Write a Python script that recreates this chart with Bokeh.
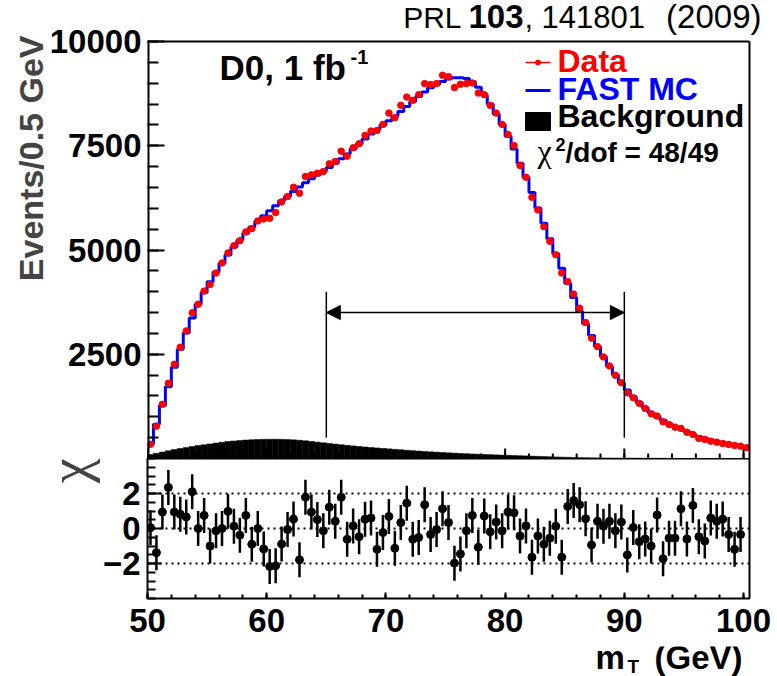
import numpy as np
from bokeh.plotting import figure
from bokeh.layouts import column
from bokeh.models import FixedTicker, Label, Span, Arrow, NormalHead, Range1d, Title
from bokeh.embed import file_html
from bokeh.resources import INLINE

# ---------------- data ----------------
MT_LOW, MT_HIGH, BIN_W, N_BINS = 50.0, 100.5, 0.5, 101
mt_edges = MT_LOW + BIN_W * np.arange(N_BINS + 1)
mt_centers = mt_edges[:-1] + BIN_W / 2

data_counts = [340, 776, 1298, 1803, 2260, 2668, 3060, 3493, 3702, 4014,
               4173, 4447, 4688, 4930, 5103, 5223, 5433, 5512, 5697, 5745,
               5760, 5897, 6154, 6281, 6505, 6361, 6762, 6803, 6841, 6882,
               7067, 7123, 7370, 7250, 7452, 7548, 7748, 7851, 7868, 8012,
               8284, 8173, 8469, 8668, 8589, 8726, 8990, 8966, 8990, 9190,
               9157, 8894, 8974, 8990, 9005, 8764, 8726, 8469, 8284, 8012,
               7772, 7507, 7026, 6745, 6264, 5962, 5560, 5207, 4887, 4450,
               4245, 3942, 3606, 3260, 2885, 2683, 2435, 2219, 1995, 1817,
               1577, 1457, 1322, 1202, 1072, 1017, 880, 817, 752, 721,
               632, 577, 481, 457, 416, 392, 361, 337, 313, 296, 260]

mc_counts = [350, 820, 1270, 1720, 2190, 2620, 3010, 3370, 3700, 3980,
             4240, 4470, 4680, 4880, 5070, 5240, 5400, 5550, 5690, 5820,
             5940, 6060, 6180, 6290, 6400, 6510, 6610, 6710, 6800, 6890,
             6980, 7080, 7190, 7300, 7420, 7540, 7660, 7780, 7890, 7990,
             8100, 8210, 8320, 8440, 8560, 8680, 8790, 8890, 8970, 9040,
             9100, 9130, 9130, 9110, 9040, 8900, 8720, 8500, 8260, 8010,
             7730, 7420, 7080, 6740, 6380, 6010, 5640, 5270, 4910, 4560,
             4200, 3860, 3530, 3230, 2950, 2680, 2440, 2210, 2010, 1810,
             1640, 1480, 1340, 1215, 1100, 1000, 915, 835, 765, 700,
             640, 580, 530, 485, 445, 410, 380, 352, 328, 305, 285]

bkg_counts = [95, 125, 155, 185, 215, 240, 265, 290, 310, 330,
              350, 370, 390, 405, 420, 432, 442, 450, 456, 460,
              462, 462, 460, 455, 448, 438, 425, 410, 393, 376,
              360, 345, 330, 316, 302, 289, 276, 264, 253, 242,
              231, 220, 209, 198, 188, 178, 169, 160, 152, 144,
              136, 129, 122, 115, 109, 103, 97, 92, 87, 82,
              77, 72, 67, 62, 57, 52, 47, 42, 37, 33,
              29, 25, 22, 19, 17, 15, 13, 12, 11, 10,
              9, 8, 8, 7, 7, 6, 6, 5, 5, 5,
              4, 4, 4, 4, 3, 3, 3, 3, 3, 2, 2]

chi_values = [0.05, -1.38, 0.94, 2.35, 0.94, 0.81, 0.66, 2.10, 0.00, 0.75,
              -1.00, -0.13, 0.00, 0.98, 0.13, -0.38, 0.75, -0.90, 0.00, -1.17,
              -2.17, -2.13, -0.89, -0.06, 0.54, -1.79, 1.79, 0.94, 0.51, -0.13,
              1.22, 0.41, 1.79, -0.62, 0.15, -0.47, 0.53, 0.60, -1.19, -0.23,
              0.69, -1.13, 0.34, 1.45, -0.62, -0.51, 1.36, -0.34, -0.06, 1.13,
              0.34, -1.98, -1.45, -0.13, 0.75, -1.07, 0.71, -0.19, 0.37, -0.13,
              0.94, 0.90, -0.43, 0.15, -1.64, -0.43, -0.90, -0.55, 0.13, -1.64,
              1.26, 1.60, 1.36, 0.56, -0.94, 0.41, 0.13, 0.41, -0.13, 0.37,
              -1.51, 0.06, -0.75, -0.60, -1.00, 0.77, -1.73, -0.55, -0.55, 1.13,
              -0.60, 1.32, -0.47, -0.72, 0.60, 0.41, 0.54, -0.34, -1.19, -0.34]
chi_err = 1.0

fit_window = [65, 90]
window_lines = [500, 4000]
arrow_level = 3500
chi_ref_lines = [-2, 0, 2]

x_major = [50, 60, 70, 80, 90, 100]
x_minor = list(range(50, 101, 2))
y_major = [2500, 5000, 7500, 10000]
y_minor = list(range(0, 10001, 500))
chi_major = [-2, 0, 2]
chi_minor = [v / 2 for v in range(-8, 9)]
Y_MAX, CHI_MIN, CHI_MAX = 10000, -4, 4

# ---------------- layout (page pixels) ----------------
W, H = 777, 676
FL, FR = 147, 749            # frame left / right of the visible boxes
MAIN_TOP, MAIN_BOT = 41, 458 # visible box of the main panel
LOW_H, LOW_BB = 140, 48      # chi frame height / its bottom border (tick labels)
BOT_TOP = MAIN_BOT + LOW_H + LOW_BB
BOT_H = H - BOT_TOP

px_per_gev = (FR - FL) / (MT_HIGH - MT_LOW)
px_per_evt = (MAIN_BOT - MAIN_TOP) / Y_MAX
X_END = MT_LOW + (W - FL) / px_per_gev
Y_MAIN_END = MAIN_BOT / px_per_evt

def mx(px):
    return MT_LOW + (px - FL) / px_per_gev
def vy(py):
    return (MAIN_BOT - py) / px_per_evt
def bl(py, size):
    # page baseline -> label anchor (labels render about 0.4 em below the anchor)
    return py - 0.4 * size

FONT = "Liberation Sans"

def base_style(fig):
    fig.grid.grid_line_color = None
    fig.background_fill_color = "white"
    fig.border_fill_color = "white"
    fig.outline_line_color = None
    for ax in fig.axis:
        ax.axis_label = None
        ax.axis_line_color = None
        ax.major_tick_line_width = 2
        ax.minor_tick_line_width = 2
        ax.major_tick_out = 0
        ax.minor_tick_out = 0
        ax.major_label_text_font = FONT
        ax.major_label_text_font_style = "bold"
        ax.major_label_text_font_size = "33px"
        ax.major_label_text_color = "black"

def lab(fig, x, y, text, size, color="black", style="bold", font=FONT, align="left"):
    fig.add_layout(Label(x=x, y=y, text=text, text_font=font, text_font_size=f"{size}px",
                         text_font_style=style, text_color=color,
                         text_baseline="alphabetic", text_align=align))

def plab(px, py, text, size, **kw):
    lab(p, mx(px), vy(bl(py, size)), text, size, **kw)

# ---------------- main panel ----------------
p = figure(width=W, height=MAIN_BOT, title=None, frame_align=False,
           x_range=Range1d(MT_LOW, X_END), y_range=Range1d(0, Y_MAIN_END),
           x_axis_location=None, output_backend="svg", toolbar_location=None,
           min_border_left=FL, min_border_right=0, min_border_top=0, min_border_bottom=0)
base_style(p)
p.yaxis.ticker = FixedTicker(ticks=y_major, minor_ticks=y_minor)
p.yaxis.major_tick_in = 17
p.yaxis.minor_tick_in = 11
p.yaxis.major_label_standoff = 6
p.add_layout(Title(text="Events/0.5 GeV", align="right", offset=35, standoff=-6,
                   text_font=FONT, text_font_size="34px", text_font_style="bold"), "left")

# background histogram
p.quad(left=mt_edges[:-1], right=mt_edges[1:], bottom=0, top=bkg_counts,
       fill_color="black", line_color="black", line_width=0.5)

# FAST MC step histogram
step_x = np.concatenate([[mt_edges[0]], np.repeat(mt_edges, 2)[1:-1]])
step_y = np.concatenate([[0], np.repeat(mc_counts, 2)])
p.line(step_x, step_y, line_color="#0000ff", line_width=3)

# data
p.scatter(mt_centers, data_counts, size=6.5, marker="circle",
          fill_color="#ff0000", line_color="#ff0000")

# box of the main panel (left, top, right) and inward bottom ticks
p.segment(x0=[MT_LOW, MT_LOW, MT_HIGH], y0=[0, Y_MAX, 0],
          x1=[MT_LOW, MT_HIGH, MT_HIGH], y1=[Y_MAX, Y_MAX, Y_MAX],
          line_color="black", line_width=[4, 2, 2])
p.segment(x0=x_minor, y0=[0] * len(x_minor), x1=x_minor, y1=[5 / px_per_evt] * len(x_minor),
          line_color="black", line_width=2)
p.segment(x0=x_major, y0=[0] * len(x_major), x1=x_major, y1=[10 / px_per_evt] * len(x_major),
          line_color="black", line_width=2)

# fit window
p.segment(x0=fit_window, y0=[window_lines[0]] * 2, x1=fit_window, y1=[window_lines[1]] * 2,
          line_color="black", line_width=1.5)
p.add_layout(Arrow(start=NormalHead(size=14, fill_color="black", line_color="black"),
                   end=NormalHead(size=14, fill_color="black", line_color="black"),
                   x_start=fit_window[0], y_start=arrow_level,
                   x_end=fit_window[1], y_end=arrow_level,
                   line_color="black", line_width=1.5))

# header
plab(461, 29, "PRL", 30, style="normal", align="right")
plab(468, 29, "103", 33, style="bold")
plab(524, 29, ",", 31, style="normal")
plab(541, 29, "141801", 31, style="normal")
plab(761, 29, "(2009)", 33, style="normal", align="right")

# D0 label
plab(219, 81, "D0, 1 fb", 35)
plab(350, 64, "-1", 20)

# legend
p.segment(x0=[mx(525)], y0=[vy(62)], x1=[mx(550)], y1=[vy(62)], line_color="#ff0000", line_width=1.5)
p.scatter([mx(537.5)], [vy(62)], size=5, fill_color="#ff0000", line_color="#ff0000")
p.segment(x0=[mx(525)], y0=[vy(90)], x1=[mx(550)], y1=[vy(90)], line_color="#0000ff", line_width=3)
p.quad(left=[mx(525)], right=[mx(550)], bottom=[vy(130)], top=[vy(112)],
       fill_color="black", line_color="black")
plab(557, 73, "Data", 32, color="#ff0000")
plab(557, 101, "FAST MC", 32, color="#0000ff")
plab(557, 128, "Background", 32)
plab(537, 163, "χ", 32, style="normal", font="Liberation Serif")
plab(555, 151, "2", 18)
plab(565, 163, "/dof = 48/49", 28)

# ---------------- lower (chi) panel ----------------
q = figure(width=W, height=LOW_H + LOW_BB, title=None, frame_align=False,
           x_range=Range1d(MT_LOW, MT_HIGH), y_range=Range1d(CHI_MIN, CHI_MAX),
           output_backend="svg", toolbar_location=None,
           min_border_left=FL, min_border_right=W - FR, min_border_top=0, min_border_bottom=LOW_BB)
base_style(q)
q.outline_line_color = "black"
q.outline_line_width = 2
q.xaxis.ticker = FixedTicker(ticks=x_major, minor_ticks=x_minor)
q.xaxis.major_tick_in = 6
q.xaxis.minor_tick_in = 4
q.xaxis.major_label_standoff = 10
q.yaxis.ticker = FixedTicker(ticks=chi_major, minor_ticks=chi_minor)
q.yaxis.major_tick_in = 14
q.yaxis.minor_tick_in = 8
q.yaxis.major_label_standoff = 7
q.add_layout(Title(text="χ", align="right", offset=0, standoff=0,
                   text_font="Liberation Serif", text_font_size="56px",
                   text_font_style="normal"), "left")

for lv in chi_ref_lines:
    q.add_layout(Span(location=lv, dimension="width", line_color="black",
                      line_width=2, line_dash="2 4"))

chi_x = mt_centers[:len(chi_values)]
chi_arr = np.array(chi_values)
q.segment(x0=chi_x, y0=chi_arr - chi_err, x1=chi_x, y1=chi_arr + chi_err,
          line_color="black", line_width=2.5)
q.scatter(chi_x, chi_values, size=8, marker="circle", fill_color="black", line_color="black")

# ---------------- x axis title strip ----------------
r = figure(width=W, height=BOT_H, title=None, frame_align=False,
           x_range=Range1d(0, W), y_range=Range1d(H, BOT_TOP),
           x_axis_location=None, y_axis_location=None,
           output_backend="svg", toolbar_location=None,
           min_border_left=0, min_border_right=0, min_border_top=0, min_border_bottom=0)
r.grid.grid_line_color = None
r.outline_line_color = None
r.background_fill_color = "white"
r.border_fill_color = "white"
lab(r, 595, bl(670, 33), "m", 33)
lab(r, 627, bl(674, 19), "T", 19)
lab(r, 654, bl(670, 33), "(GeV)", 33)

layout = column(p, q, r, spacing=0)
open("out.html", "w").write(file_html(layout, INLINE))
